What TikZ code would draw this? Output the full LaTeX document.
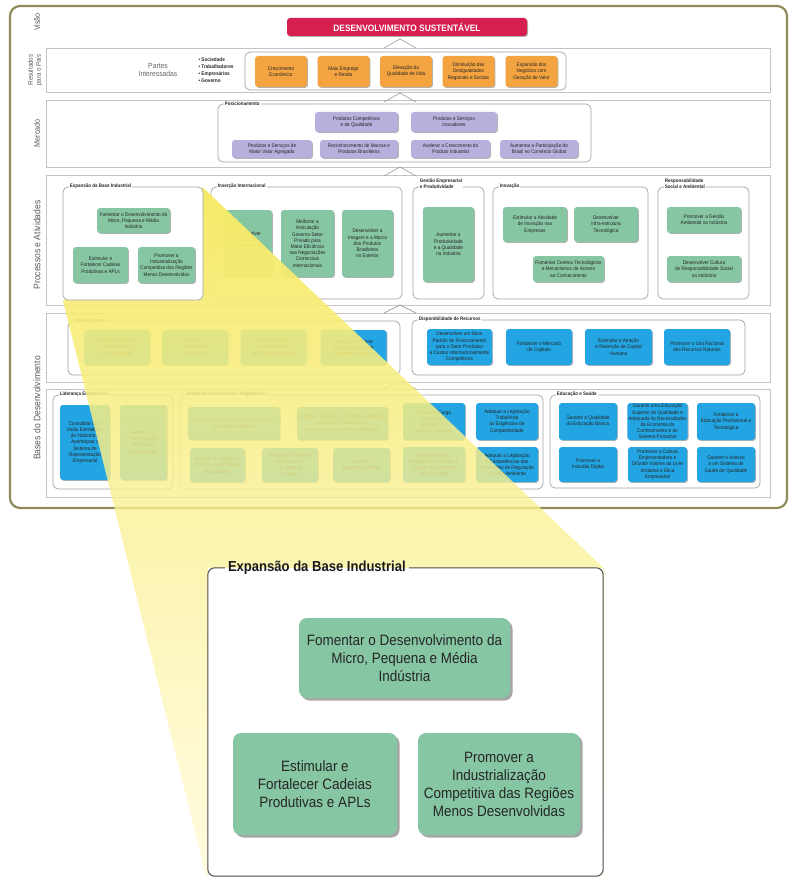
\documentclass[tikz,border=0pt]{standalone}
\usepackage{fontspec}
\setmainfont{Liberation Sans}[FakeStretch=0.9]
\usetikzlibrary{shadows,fadings,calc}

\definecolor{olivaC}{HTML}{8E8C5A}
\definecolor{cinzaC}{HTML}{C4C4C4}
\definecolor{cinzaE}{HTML}{A3A3A3}
\definecolor{vermC}{HTML}{D71F4F}
\definecolor{laranjaC}{HTML}{F3A33F}
\definecolor{roxoC}{HTML}{B8AFDD}
\definecolor{verdeC}{HTML}{86C6A3}
\definecolor{azulC}{HTML}{22A5E2}
\definecolor{amarA}{HTML}{F5EA66}
\definecolor{amarB}{HTML}{FFF8C4}

\tikzfading[name=fadeAmarelo, top color=transparent!0, bottom color=transparent!45]

\tikzset{
  faixa/.style={draw=cinzaC, line width=0.6pt, fill=white},
  grupo/.style={draw=cinzaE, line width=0.7pt, rounded corners=5pt, fill=white},
  rotulo/.style={fill=white, inner sep=1pt, align=left, text=black!85,
    font=\bfseries\fontsize{5}{6.2}\selectfont},
  lateral/.style={rotate=90, align=center, text=black!65, font=\fontsize{8}{8.5}\selectfont},
  objetivo/.style={rounded corners=3pt, align=center, inner sep=1pt, text=black!85,
    font=\fontsize{5.2}{6.2}\selectfont,
    drop shadow={shadow xshift=0.9pt, shadow yshift=-0.9pt, fill=black, opacity=0.3}},
  laranja/.style={objetivo, fill=laranjaC},
  roxo/.style={objetivo, fill=roxoC},
  verde/.style={objetivo, fill=verdeC},
  azul/.style={objetivo, fill=azulC},
  visao/.style={fill=vermC, rounded corners=3pt, text=white,
    font=\bfseries\fontsize{9.3}{10}\selectfont,
    drop shadow={shadow xshift=1pt, shadow yshift=-1pt, fill=black, opacity=0.3}},
  chev/.style={draw=cinzaE, line width=0.7pt},
  zoomobj/.style={fill=verdeC, rounded corners=8pt, align=center, inner sep=2pt, text=black!85,
    font=\fontsize{15}{18}\selectfont,
    drop shadow={shadow xshift=2.5pt, shadow yshift=-2.5pt, fill=black, opacity=0.35}},
}

\begin{document}
\begin{tikzpicture}[x=1pt, y=-1pt]
\useasboundingbox (0,0) rectangle (790,880);

% moldura e faixas
\draw[draw=olivaC, line width=2.2pt, rounded corners=10pt] (10,6) rectangle (787,508);
\node[faixa, minimum width=724, minimum height=44] (fRes) at (408,70) {};
\node[faixa, minimum width=724, minimum height=67] (fMer) at (408,133.5) {};
\node[faixa, minimum width=724, minimum height=130] (fPro) at (408,240) {};
\node[faixa, minimum width=724, minimum height=69] (fDis) at (408,347.5) {};
\node[faixa, minimum width=724, minimum height=108] (fBas) at (408,443) {};

\node[lateral] (lVis) at (37,22) {Visão};
\node[lateral, font=\fontsize{6.8}{8}\selectfont] (lRes) at (35,70) {Resultados\\para o País};
\node[lateral] (lMer) at (37,133) {Mercado};
\node[lateral, font=\fontsize{9.5}{10}\selectfont] (lPro) at (37,245) {Processos e Atividades};
\node[lateral, font=\fontsize{9.5}{10}\selectfont] (lBas) at (37,408) {Bases do Desenvolvimento};

\draw[chev] (384,48) -- (400,39) -- (416,48);
\draw[chev] (384,102) -- (400,93) -- (416,102);
\draw[chev] (384,176) -- (400,167) -- (416,176);
\draw[chev] (384,313) -- (400,305) -- (416,313);
\draw[chev] (384,389) -- (400,381) -- (416,389);

% visao
\node[visao, minimum width=240, minimum height=18] (vis) at (407,27) {DESENVOLVIMENTO SUSTENTÁVEL};

% resultados para o pais
\node[align=center, text=black!60, font=\fontsize{7.5}{8.5}\selectfont] (partes) at (158,70) {Partes\\Interessadas};
\node[anchor=west, align=left, text=black!85, font=\bfseries\fontsize{5.2}{6.8}\selectfont] (lista) at (195,70)
  {• Sociedade\\• Trabalhadores\\• Empresários\\• Governo};
\node[grupo, minimum width=321, minimum height=38] (gOrg) at (405.5,71) {};
\node[laranja, minimum width=52, minimum height=31] (o1) at (281,71.5) {Crescimento\\Econômico};
\node[laranja, minimum width=52, minimum height=31] (o2) at (343.5,71.5) {Mais Emprego\\e Renda};
\node[laranja, minimum width=52, minimum height=31] (o3) at (406,71.5) {Elevação da\\Qualidade de Vida};
\node[laranja, minimum width=52, minimum height=31] (o4) at (468.5,71.5) {Diminuição das\\Desigualdades\\Regionais e Sociais};
\node[laranja, minimum width=52, minimum height=31] (o5) at (531.5,71.5) {Expansão dos\\Negócios com\\Geração de Valor};

% mercado
\node[grupo, minimum width=373, minimum height=58] (gPos) at (404.5,133) {};
\node[rotulo, anchor=west] (tPos) at ($(gPos.north west)+(6,0)$) {Posicionamento};
\node[roxo, minimum width=83, minimum height=20] (p1) at (356.5,122) {Produtos Competitivos\\e de Qualidade};
\node[roxo, minimum width=86, minimum height=20] (p2) at (454,122) {Produtos e Serviços\\Inovadores};
\node[roxo, minimum width=80, minimum height=18] (p3) at (272,149) {Produtos e Serviços de\\Maior Valor Agregado};
\node[roxo, minimum width=78, minimum height=18] (p4) at (359,149) {Reconhecimento de Marcas e\\Produtos Brasileiros};
\node[roxo, minimum width=79, minimum height=18] (p5) at (450.5,149) {Acelerar o Crescimento do\\Produto Industrial};
\node[roxo, minimum width=78, minimum height=18] (p6) at (539,149) {Aumentar a Participação do\\Brasil no Comércio Global};

% processos e atividades
\node[grupo, minimum width=191, minimum height=112] (gIns) at (306.5,243) {};
\node[rotulo, anchor=west] (tIns) at ($(gIns.north west)+(6,0)$) {Inserção Internacional};
\node[verde, minimum width=48, minimum height=67] (i1) at (248,243.5) {Desenvolver\\Cultura\\Exportadora\\nas Empresas};
\node[verde, minimum width=53, minimum height=67] (i2) at (307.5,243.5)
  {Melhorar a\\Articulação\\Governo-Setor\\Privado para\\Maior Eficiência\\nas Negociações\\Comerciais\\Internacionais};
\node[verde, minimum width=51, minimum height=67] (i3) at (367.5,243.5) {Desenvolver a\\Imagem e a Marca\\dos Produtos\\Brasileiros\\no Exterior};

\node[grupo, minimum width=71, minimum height=112] (gGes) at (448.5,243) {};
\node[rotulo, anchor=south west] (tGes) at ($(gGes.north west)+(6,3.5)$) {Gestão Empresarial\\e Produtividade};
\node[verde, minimum width=51, minimum height=75] (g1) at (448.5,244.5) {Aumentar a\\Produtividade\\e a Qualidade\\na Indústria};

\node[grupo, minimum width=155, minimum height=112] (gIno) at (570.5,243) {};
\node[rotulo, anchor=west] (tIno) at ($(gIno.north west)+(6,0)$) {Inovação};
\node[verde, minimum width=64, minimum height=35] (n1) at (535,224.5) {Estimular a Atividade\\de Inovação nas\\Empresas};
\node[verde, minimum width=64, minimum height=35] (n2) at (606,224.5) {Desenvolver\\Infra-estrutura\\Tecnológica};
\node[verde, minimum width=71, minimum height=26] (n3) at (568.5,269) {Fomentar Centros Tecnológicos\\e Mecanismos de Acesso\\ao Conhecimento};

\node[grupo, minimum width=91, minimum height=112] (gRes) at (703.5,243) {};
\node[rotulo, anchor=south west] (tRes) at ($(gRes.north west)+(6,3.5)$) {Responsabilidade\\Social e Ambiental};
\node[verde, minimum width=74, minimum height=26] (r1) at (704,220) {Promover a Gestão\\Ambiental na Indústria};
\node[verde, minimum width=74, minimum height=26] (r2) at (704,269) {Desenvolver Cultura\\de Responsabilidade Social\\na Indústria};

% disponibilidade
\node[grupo, minimum width=332, minimum height=54] (gInf) at (234,348) {};
\node[rotulo, anchor=west] (tInf) at ($(gInf.north west)+(6,0)$) {Infra-estrutura};
\node[azul, minimum width=66, minimum height=35] (f1) at (117,347.5) {Ampliar e Melhorar\\a Infra-estrutura\\de Transportes};
\node[azul, minimum width=66, minimum height=35] (f2) at (195,347.5) {Garantir o\\Suprimento\\de Energia};
\node[azul, minimum width=66, minimum height=35] (f3) at (273.5,347.5) {Ampliar e Melhorar\\a Infra-estrutura\\de Telecomunicações};
\node[azul, minimum width=66, minimum height=35] (f4) at (353.5,347.5) {Ampliar e Melhorar\\a Infra-estrutura de\\Saneamento Básico};

\node[grupo, minimum width=333, minimum height=55] (gDis) at (578.5,347.5) {};
\node[rotulo, anchor=west] (tDis) at ($(gDis.north west)+(6,0)$) {Disponibilidade de Recursos};
\node[azul, minimum width=65, minimum height=36] (d1) at (459.5,347) {Desenvolver um Novo\\Padrão de Financiamento\\para o Setor Produtivo\\a Custos Internacionalmente\\Competitivos};
\node[azul, minimum width=66, minimum height=36] (d2) at (539,347) {Fortalecer o Mercado\\de Capitais};
\node[azul, minimum width=67, minimum height=36] (d3) at (618.5,347) {Estimular a Atração\\e Retenção de Capital\\Humano};
\node[azul, minimum width=66, minimum height=36] (d4) at (697,347) {Promover o Uso Racional\\dos Recursos Naturais};

% bases do desenvolvimento
\node[grupo, minimum width=120, minimum height=94] (gLid) at (113,442) {};
\node[rotulo, anchor=west] (tLid) at ($(gLid.north west)+(6,0)$) {Liderança Empresarial};
\node[azul, minimum width=50, minimum height=75] (l1) at (85,442.5) {Consolidar uma\\Visão Estratégica\\da Indústria e\\Aperfeiçoar o\\Sistema de\\Representação\\Empresarial};
\node[azul, minimum width=47, minimum height=75] (l2) at (143.5,442.5) {Fortalecer a\\Participação\\Política do\\Empresariado};

\node[grupo, minimum width=363, minimum height=94] (gAmb) at (361.5,442) {};
\node[rotulo, anchor=west] (tAmb) at ($(gAmb.north west)+(6,0)$) {Ambiente Institucional e Regulatório};
\node[azul, minimum width=92, minimum height=33] (a1) at (234,423.5) {Promover a Reforma e a Modernização\\do Estado Brasileiro};
\node[azul, minimum width=91, minimum height=33] (a2) at (342.5,423.5) {Promover a Redução e Desburocratização\\do Sistema Tributário e o\\Aprimoramento do Pacto Federativo};
\node[azul, minimum width=62, minimum height=37] (a3) at (434,421.5) {Reduzir a Carga\\Tributária e\\Aperfeiçoar o\\Sistema Tributário};
\node[azul, minimum width=62, minimum height=37] (a4) at (507,421.5) {Adequar a Legislação\\Trabalhista\\às Exigências de\\Competitividade};
\node[azul, minimum width=55, minimum height=34] (a5) at (217.5,465) {Garantir a Segurança\\Jurídica e a Eficiência\\do Judiciário};
\node[azul, minimum width=56, minimum height=34] (a6) at (290,465) {Promover a Reforma\\Institucional\\do Sistema\\Político};
\node[azul, minimum width=57, minimum height=34] (a7) at (361.5,465) {Garantir a\\Segurança Pública};
\node[azul, minimum width=62, minimum height=35] (a8) at (434,464.5) {Garantir Marcos\\Regulatórios Estáveis e\\Órgãos Reguladores\\mais Eficazes};
\node[azul, minimum width=62, minimum height=35] (a9) at (507,464.5) {Adequar a Legislação\\e Competências das\\Instituições de Regulação\\do Meio Ambiente};

\node[grupo, minimum width=210, minimum height=93] (gEdu) at (655,441.5) {};
\node[rotulo, anchor=west] (tEdu) at ($(gEdu.north west)+(6,0)$) {Educação e Saúde};
\node[azul, minimum width=58, minimum height=37] (s1) at (588,421.5) {Garantir a Qualidade\\da Educação Básica};
\node[azul, minimum width=59, minimum height=37] (s2) at (657.5,421.5) {Garantir uma Educação\\Superior de Qualidade e\\Adequada às Necessidades\\da Economia do\\Conhecimento e do\\Sistema Produtivo};
\node[azul, minimum width=58, minimum height=37] (s3) at (726,421.5) {Fortalecer a\\Educação Profissional e\\Tecnológica};
\node[azul, minimum width=58, minimum height=35] (s4) at (588,464.5) {Promover a\\Inclusão Digital};
\node[azul, minimum width=59, minimum height=35] (s5) at (657.5,464.5) {Promover a Cultura\\Empreendedora e\\Difundir Valores da Livre\\Iniciativa e Ética\\Empresarial};
\node[azul, minimum width=58, minimum height=35] (s6) at (726,464.5) {Garantir o Acesso\\a um Sistema de\\Saúde de Qualidade};

% faixo amarelo da ampliacao
\shade[top color=amarA, bottom color=amarB, path fading=fadeAmarelo]
  (63,300) -- (203,187) -- (604,568) -- (604,876) -- (206,876) -- cycle;

% expansao da base industrial (pequeno)
\node[grupo, minimum width=140, minimum height=113] (gExp) at (133,243.5) {};
\node[rotulo, anchor=west] (tExp) at ($(gExp.north west)+(6,0)$) {Expansão da Base Industrial};
\node[verde, minimum width=73, minimum height=25] (e1) at (133.5,220.5) {Fomentar o Desenvolvimento da\\Micro, Pequena e Média\\Indústria};
\node[verde, minimum width=55, minimum height=36] (e2) at (100.5,265) {Estimular e\\Fortalecer Cadeias\\Produtivas e APLs};
\node[verde, minimum width=57, minimum height=36] (e3) at (166.5,265) {Promover a\\Industrialização\\Competitiva das Regiões\\Menos Desenvolvidas};

% expansao da base industrial (ampliado)
\node[fill=white, minimum width=395, minimum height=308] (bigExp) at (405.5,722) {};
\node[anchor=west, inner sep=3pt, text=black!90, font=\bfseries\fontsize{14.5}{16}\selectfont] (tBig)
  at ($(bigExp.north west)+(17,0)$) {Expansão da Base Industrial};
\draw[draw=black!70, line width=1pt, rounded corners=7pt]
  (tBig.east |- bigExp.north) -- (bigExp.north east) -- (bigExp.south east)
  -- (bigExp.south west) -- (bigExp.north west) -- (tBig.west |- bigExp.north);
\node[zoomobj, minimum width=211, minimum height=80] (z1) at (404.5,658) {Fomentar o Desenvolvimento da\\Micro, Pequena e Média\\Indústria};
\node[zoomobj, minimum width=164, minimum height=102] (z2) at (315,784) {Estimular e\\Fortalecer Cadeias\\Produtivas e APLs};
\node[zoomobj, minimum width=162, minimum height=102] (z3) at (499,784) {Promover a\\Industrialização\\Competitiva das Regiões\\Menos Desenvolvidas};
\end{tikzpicture}
\end{document}
